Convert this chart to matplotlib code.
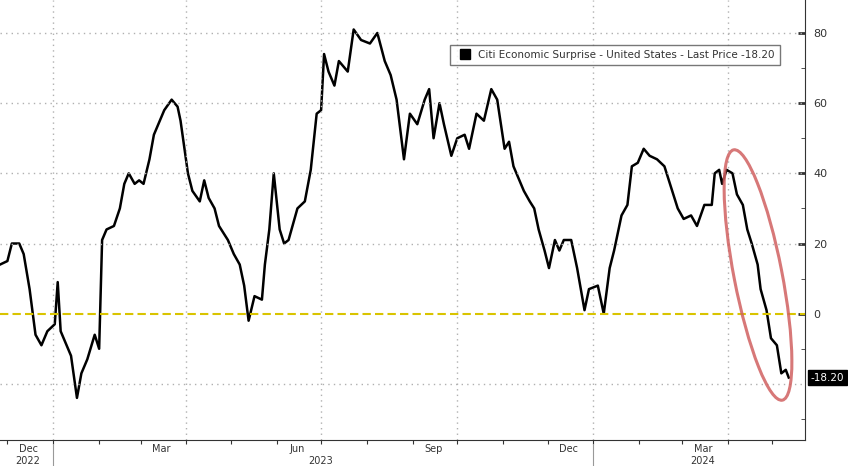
import numpy as np
import matplotlib.pyplot as plt
from matplotlib.patches import Ellipse
from matplotlib.transforms import IdentityTransform
import datetime as dt

# Citi Economic Surprise Index - US (days since 2023-01-01, value)
jours = [-36, -31, -28, -23, -20, -16, -12, -8, -4, 1, 3, 5, 9, 12, 16, 19, 23, 28, 31, 33,
         36, 41, 45, 48, 51, 55, 58, 61, 65, 68, 72, 75, 80, 84, 86, 91, 94, 99, 102, 105,
         109, 112, 118, 122, 126, 129, 132, 136, 141, 143, 146, 149, 153, 156, 159, 165, 170, 174, 178, 181,
         183, 186, 190, 193, 199, 203, 208, 214, 219, 224, 228, 232, 237, 241, 246, 251, 254, 257, 261, 264,
         269, 273, 278, 281, 286, 291, 296, 300, 305, 308, 311, 315, 318, 322, 325, 328, 332, 335, 339, 342,
         345, 350, 354, 359, 362, 368, 372, 376, 379, 384, 388, 391, 395, 399, 403, 408, 413, 416, 422, 426,
         431, 435, 440, 445, 447, 450, 452, 455, 459, 462, 466, 469, 472, 476, 478, 482, 485, 489, 492, 495, 497]
valeurs = [14, 15, 20, 20, 17, 7, -6, -9, -5, -3, 9, -5, -9, -12, -24, -17, -13, -6, -10, 21,
           24, 25, 30, 37, 40, 37, 38, 37, 44, 51, 55, 58, 61, 59, 55, 40, 35, 32, 38, 33,
           30, 25, 21, 17, 14, 8, -2, 5, 4, 14, 24, 40, 24, 20, 21, 30, 32, 41, 57, 58,
           74, 69, 65, 72, 69, 81, 78, 77, 80, 72, 68, 61, 44, 57, 54, 61, 64, 50, 60, 54,
           45, 50, 51, 47, 57, 55, 64, 61, 47, 49, 42, 38, 35, 32, 30, 24, 18, 13, 21, 18,
           21, 21, 13, 1, 7, 8, 0, 13, 18, 28, 31, 42, 43, 47, 45, 44, 42, 38, 30, 27,
           28, 25, 31, 31, 40, 41, 37, 41, 40, 34, 31, 24, 20, 14, 7, 1, -7, -9, -17, -16, -18.2]

origine = dt.date(2023, 1, 1)
dates = [origine + dt.timedelta(days=j) for j in jours]

fig = plt.figure(figsize=(8.48, 4.66), dpi=100)
ax = fig.add_axes([0, 26 / 466, 805 / 848, 440 / 466])

ax.plot(dates, valeurs, color='black', lw=1.8)
ax.axhline(0, color='#d9c400', lw=1.5, ls=(0, (4, 2)))

ax.set_xlim(dt.date(2022, 11, 26), dt.date(2024, 5, 23))
ax.set_ylim(-36, 89.4)

# quadrillage
for v in [80, 60, 40, 20, -20]:
    ax.axhline(v, color='#b0b0b0', lw=1, ls=(0, (1, 3)))
trimestres = [dt.date(2023, m, 1) for m in (1, 4, 7, 10)] + [dt.date(2024, 1, 1), dt.date(2024, 4, 1)]
for t in trimestres:
    ax.axvline(t, color='#b0b0b0', lw=1, ls=(0, (1, 3)))

for s in ['left', 'top']:
    ax.spines[s].set_visible(False)
ax.spines['right'].set_color('#333333')
ax.spines['bottom'].set_color('#333333')

ax.yaxis.tick_right()
ax.set_yticks([80, 60, 40, 20, 0])
ax.set_yticks([70, 50, 30, 10, -10, -30], minor=True)
ax.tick_params(axis='y', which='major', length=5, width=2, labelsize=8, colors='#333333', direction='in', pad=6)
ax.tick_params(axis='y', which='minor', length=3, colors='#333333', direction='in')

# axe des x : mois
mois = [dt.date(y, m, 1) for y, m in [(2022, 12), (2023, 1), (2023, 2), (2023, 3), (2023, 4), (2023, 5), (2023, 6),
                                        (2023, 7), (2023, 8), (2023, 9), (2023, 10), (2023, 11), (2023, 12),
                                        (2024, 1), (2024, 2), (2024, 3), (2024, 4), (2024, 5)]]
ax.set_xticks(mois)
ax.set_xticklabels([])
ax.tick_params(axis='x', length=3, colors='#333333')
etiquettes = [(dt.date(2022, 12, 15), 'Dec'), (dt.date(2023, 3, 15), 'Mar'), (dt.date(2023, 6, 15), 'Jun'),
              (dt.date(2023, 9, 15), 'Sep'), (dt.date(2023, 12, 15), 'Dec'), (dt.date(2024, 3, 15), 'Mar')]
for d, t in etiquettes:
    ax.text(d, -0.008, t, transform=ax.get_xaxis_transform(), ha='center', va='top', fontsize=7, color='#333333')
annees = [(dt.date(2022, 12, 15), '2022'), (dt.date(2023, 7, 1), '2023'), (dt.date(2024, 3, 15), '2024')]
for d, t in annees:
    ax.text(d, -0.036, t, transform=ax.get_xaxis_transform(), ha='center', va='top', fontsize=7, color='#333333')
for d in [dt.date(2023, 1, 1), dt.date(2024, 1, 1)]:
    ax.plot([d, d], [-0.01, -0.06], transform=ax.get_xaxis_transform(), color='#999999', lw=0.8, clip_on=False)

# légende
ax.plot([], [], color='black', marker='s', ls='', ms=7,
        label='Citi Economic Surprise - United States - Last Price -18.20')
leg = ax.legend(loc='upper right', bbox_to_anchor=(0.975, 0.91), fontsize=7.5, frameon=True,
                handletextpad=0.2, borderpad=0.5, fancybox=False)
leg.get_frame().set_edgecolor('#555555')
leg.get_frame().set_linewidth(1)
for t in leg.get_texts():
    t.set_color('#333333')

# étiquette dernière valeur
ax.annotate('-18.20', xy=(1.0, -18.2), xycoords=ax.get_yaxis_transform(), xytext=(4, 0), textcoords='offset points',
            ha='left', va='center', fontsize=7.5, color='white',
            bbox=dict(boxstyle='square,pad=0.25', fc='black', ec='black'), annotation_clip=False)

# ellipse rouge
fig.patches.append(Ellipse((758, 466 - 275), 255, 48, angle=-79, transform=IdentityTransform(),
                           fill=False, ec='#d06060', lw=2.2, alpha=0.85))

fig.savefig('out.png', dpi=100)
